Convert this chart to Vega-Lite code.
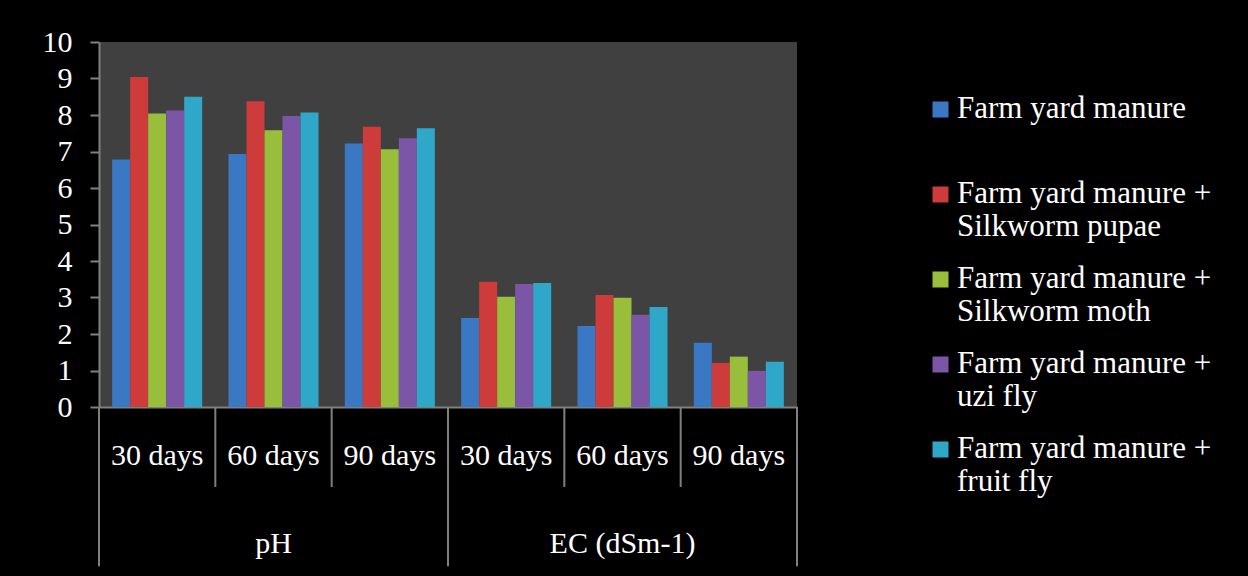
{
  "$schema": "https://vega.github.io/schema/vega-lite/v6.json",
  "width": 698,
  "height": 365,
  "autosize": {"type": "none"},
  "padding": {"left": 99, "top": 42, "right": 451, "bottom": 169},
  "background": "black",
  "config": {
    "view": {"fill": "#404040", "stroke": null},
    "font": "Liberation Serif",
    "axisY": {
      "grid": false, "tickSize": 9, "tickColor": "#808080", "tickWidth": 2,
      "domainColor": "#808080", "domainWidth": 2,
      "labelFont": "Liberation Serif", "labelFontSize": 30, "labelColor": "white",
      "labelPadding": 18, "labelFlush": false, "title": null
    }
  },
  "datasets": {
    "bars": [
      {"cat": "pH|30 days", "series": "Farm yard manure", "value": 6.78},
      {"cat": "pH|30 days", "series": "Farm yard manure + Silkworm pupae", "value": 9.04},
      {"cat": "pH|30 days", "series": "Farm yard manure + Silkworm moth", "value": 8.04},
      {"cat": "pH|30 days", "series": "Farm yard manure + uzi fly", "value": 8.12},
      {"cat": "pH|30 days", "series": "Farm yard manure + fruit fly", "value": 8.50},
      {"cat": "pH|60 days", "series": "Farm yard manure", "value": 6.93},
      {"cat": "pH|60 days", "series": "Farm yard manure + Silkworm pupae", "value": 8.38},
      {"cat": "pH|60 days", "series": "Farm yard manure + Silkworm moth", "value": 7.58},
      {"cat": "pH|60 days", "series": "Farm yard manure + uzi fly", "value": 7.97},
      {"cat": "pH|60 days", "series": "Farm yard manure + fruit fly", "value": 8.07},
      {"cat": "pH|90 days", "series": "Farm yard manure", "value": 7.22},
      {"cat": "pH|90 days", "series": "Farm yard manure + Silkworm pupae", "value": 7.68},
      {"cat": "pH|90 days", "series": "Farm yard manure + Silkworm moth", "value": 7.06},
      {"cat": "pH|90 days", "series": "Farm yard manure + uzi fly", "value": 7.36},
      {"cat": "pH|90 days", "series": "Farm yard manure + fruit fly", "value": 7.64},
      {"cat": "EC (dSm-1)|30 days", "series": "Farm yard manure", "value": 2.44},
      {"cat": "EC (dSm-1)|30 days", "series": "Farm yard manure + Silkworm pupae", "value": 3.43},
      {"cat": "EC (dSm-1)|30 days", "series": "Farm yard manure + Silkworm moth", "value": 3.02},
      {"cat": "EC (dSm-1)|30 days", "series": "Farm yard manure + uzi fly", "value": 3.37},
      {"cat": "EC (dSm-1)|30 days", "series": "Farm yard manure + fruit fly", "value": 3.40},
      {"cat": "EC (dSm-1)|60 days", "series": "Farm yard manure", "value": 2.22},
      {"cat": "EC (dSm-1)|60 days", "series": "Farm yard manure + Silkworm pupae", "value": 3.07},
      {"cat": "EC (dSm-1)|60 days", "series": "Farm yard manure + Silkworm moth", "value": 2.99},
      {"cat": "EC (dSm-1)|60 days", "series": "Farm yard manure + uzi fly", "value": 2.53},
      {"cat": "EC (dSm-1)|60 days", "series": "Farm yard manure + fruit fly", "value": 2.74},
      {"cat": "EC (dSm-1)|90 days", "series": "Farm yard manure", "value": 1.76},
      {"cat": "EC (dSm-1)|90 days", "series": "Farm yard manure + Silkworm pupae", "value": 1.21},
      {"cat": "EC (dSm-1)|90 days", "series": "Farm yard manure + Silkworm moth", "value": 1.38},
      {"cat": "EC (dSm-1)|90 days", "series": "Farm yard manure + uzi fly", "value": 0.99},
      {"cat": "EC (dSm-1)|90 days", "series": "Farm yard manure + fruit fly", "value": 1.24}
    ],
    "cats": [
      {"cat": "pH|30 days"}, {"cat": "pH|60 days"}, {"cat": "pH|90 days"},
      {"cat": "EC (dSm-1)|30 days"}, {"cat": "EC (dSm-1)|60 days"}, {"cat": "EC (dSm-1)|90 days"}
    ],
    "groupStarts": [
      {"cat": "pH|30 days"}, {"cat": "EC (dSm-1)|30 days"}
    ],
    "groupEnd": [
      {"cat": "EC (dSm-1)|90 days"}
    ],
    "groupLabels": [
      {"cat": "pH|60 days", "label": "pH"},
      {"cat": "EC (dSm-1)|60 days", "label": "EC (dSm-1)"}
    ]
  },
  "layer": [
    {
      "data": {"name": "bars"},
      "mark": {"type": "bar"},
      "encoding": {
        "x": {
          "field": "cat", "type": "nominal", "title": null,
          "scale": {"domain": ["pH|30 days", "pH|60 days", "pH|90 days", "EC (dSm-1)|30 days", "EC (dSm-1)|60 days", "EC (dSm-1)|90 days"], "paddingInner": 0, "paddingOuter": 0},
          "axis": {
            "labelExpr": "split(datum.label, '|')[1]",
            "ticks": false, "domainColor": "#808080", "domainWidth": 2,
            "labelFont": "Liberation Serif", "labelFontSize": 30, "labelColor": "white",
            "labelPadding": 33, "labelBaseline": "top", "labelAngle": 0, "title": null
          }
        },
        "xOffset": {
          "field": "series", "type": "nominal", "sort": null,
          "scale": {"paddingInner": 0, "paddingOuter": 0.73}
        },
        "y": {
          "field": "value", "type": "quantitative", "title": null,
          "scale": {"domain": [0, 10], "nice": false},
          "axis": {"values": [0, 1, 2, 3, 4, 5, 6, 7, 8, 9, 10], "labelOverlap": false}
        },
        "color": {
          "field": "series", "type": "nominal", "sort": null,
          "scale": {"range": ["#3B78C4", "#CD3B3B", "#98BE3C", "#7B56A6", "#2EA7C8"]},
          "legend": {
            "orient": "none", "legendX": 826, "legendY": 52, "title": null, "padding": 0,
            "labelFont": "Liberation Serif", "labelFontSize": 31, "labelColor": "white", "labelLimit": 400,
            "symbolType": "square", "symbolSize": 256, "symbolStrokeWidth": 0, "symbolOpacity": 1,
            "rowPadding": 20, "labelBaseline": "alphabetic", "labelLineHeight": 37, "labelOffset": 1,
            "labelExpr": "indexof(datum.label, '+') > 0 ? [substring(datum.label, 0, indexof(datum.label, '+') + 1), substring(datum.label, indexof(datum.label, '+') + 2)] : [datum.label, '']",
            "encode": {"labels": {"update": {"dy": {"value": 8}}}}
          }
        }
      }
    },
    {
      "data": {"name": "cats"},
      "mark": {"type": "rule", "color": "#808080", "strokeWidth": 2},
      "encoding": {
        "x": {"field": "cat", "type": "nominal", "bandPosition": 0, "title": null},
        "y": {"datum": 0, "axis": {"values": [0, 1, 2, 3, 4, 5, 6, 7, 8, 9, 10], "labelOverlap": false}},
        "y2": {"datum": -2.19}
      }
    },
    {
      "data": {"name": "groupStarts"},
      "mark": {"type": "rule", "color": "#808080", "strokeWidth": 2},
      "encoding": {
        "x": {"field": "cat", "type": "nominal", "bandPosition": 0, "title": null},
        "y": {"datum": 0, "axis": {"values": [0, 1, 2, 3, 4, 5, 6, 7, 8, 9, 10], "labelOverlap": false}},
        "y2": {"datum": -4.36}
      }
    },
    {
      "data": {"name": "groupEnd"},
      "mark": {"type": "rule", "color": "#808080", "strokeWidth": 2},
      "encoding": {
        "x": {"field": "cat", "type": "nominal", "bandPosition": 1, "title": null},
        "y": {"datum": 0, "axis": {"values": [0, 1, 2, 3, 4, 5, 6, 7, 8, 9, 10], "labelOverlap": false}},
        "y2": {"datum": -4.36}
      }
    },
    {
      "data": {"name": "groupLabels"},
      "mark": {"type": "text", "color": "white", "fontSize": 30, "font": "Liberation Serif", "baseline": "middle", "align": "center"},
      "encoding": {
        "x": {"field": "cat", "type": "nominal", "bandPosition": 0.5, "title": null},
        "y": {"datum": -3.75, "axis": {"values": [0, 1, 2, 3, 4, 5, 6, 7, 8, 9, 10], "labelOverlap": false}},
        "text": {"field": "label"}
      }
    }
  ]
}
